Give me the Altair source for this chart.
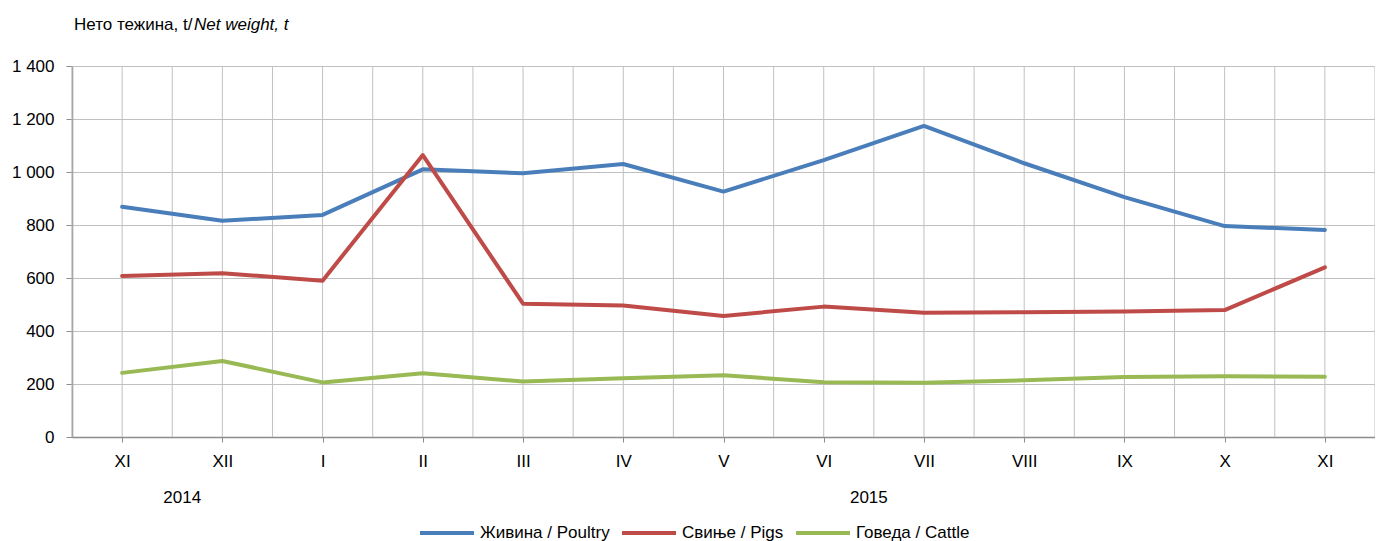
import altair as alt
import pandas as pd

months = ["XI", "XII", "I", "II", "III", "IV", "V", "VI", "VII", "VIII", "IX", "X", "XI"]
poultry = [869, 816, 838, 1010, 995, 1030, 926, 1045, 1174, 1033, 905, 796, 781]
pigs = [608, 618, 590, 1064, 503, 496, 457, 492, 469, 471, 474, 479, 640]
cattle = [242, 287, 206, 241, 209, 222, 233, 207, 205, 214, 226, 229, 227]

series_names = ["Живина / Poultry", "Свиње / Pigs", "Говеда / Cattle"]
series_colors = ["#4a7ebb", "#be4b48", "#98b954"]

years = ["2014", "2015"]
year_pos = [0.6, 7.45]

FONT = "Liberation Sans"

rows = []
for name, vals in zip(series_names, [poultry, pigs, cattle]):
    for i, v in enumerate(vals):
        rows.append({"idx": i, "month": months[i], "value": v, "series": name})
df = pd.DataFrame(rows)

n = len(months)
grid_df = pd.DataFrame({"g": [k / 2 - 0.5 for k in range(2 * n + 1)]})
years_df = pd.DataFrame({"year": years, "pos": year_pos})

label_arr = "[" + ",".join("'" + m + "'" for m in months) + "]"
xscale = alt.Scale(domain=[-0.5, n - 0.5], nice=False, zero=False)
xaxis = alt.Axis(values=list(range(n)), labelExpr=label_arr + "[datum.value]",
                 grid=False, title=None, tickSize=5, tickColor="#8c8c8c",
                 domainColor="#8c8c8c", domainWidth=1.5, labelPadding=11,
                 labelFont=FONT, labelFontSize=17, labelColor="#000000")

vgrid = alt.Chart(grid_df).mark_rule(color="#c0c0c0", strokeWidth=1).encode(
    x=alt.X("g:Q", scale=xscale, axis=xaxis)
)

lines = alt.Chart(df).mark_line(strokeWidth=4, strokeCap="round", strokeJoin="round").encode(
    x=alt.X("idx:Q", scale=xscale, axis=xaxis),
    y=alt.Y("value:Q", scale=alt.Scale(domain=[0, 1400], nice=False),
            axis=alt.Axis(values=list(range(0, 1401, 200)),
                          labelExpr="replace(format(datum.value, ','), ',', ' ')",
                          title=None, grid=True, gridColor="#c0c0c0", gridWidth=1,
                          tickSize=6, tickColor="#8c8c8c", domainColor="#8c8c8c",
                          domainWidth=1.5, labelPadding=12,
                          labelFont=FONT, labelFontSize=17, labelColor="#000000")),
    color=alt.Color("series:N", scale=alt.Scale(domain=series_names, range=series_colors),
                    legend=alt.Legend(title=None, orient="none", direction="horizontal",
                                      legendX=346, legendY=438,
                                      symbolType="stroke", symbolSize=2916,
                                      symbolStrokeWidth=4, labelOffset=4, columnPadding=4,
                                      labelFont=FONT, labelFontSize=17, labelColor="#000000")),
    detail="series:N",
)

year_text = alt.Chart(years_df).mark_text(font=FONT, fontSize=17, baseline="middle",
                                          align="center", color="#000000").encode(
    x=alt.X("pos:Q", scale=xscale, axis=xaxis),
    y=alt.value(432),
    text="year:N",
)

title_df = pd.DataFrame({"t1": ["Нето тежина, t/"], "t2": ["Net weight, t"]})
title1 = alt.Chart(title_df).mark_text(font=FONT, fontSize=17, align="left",
                                       baseline="alphabetic", color="#000000").encode(
    x=alt.value(2), y=alt.value(-36), text="t1:N")
title2 = alt.Chart(title_df).mark_text(font=FONT, fontSize=17, align="left", fontStyle="italic",
                                       baseline="alphabetic", color="#000000").encode(
    x=alt.value(122), y=alt.value(-36), text="t2:N")

chart = alt.layer(vgrid, lines, year_text, title1, title2).properties(
    width=1303, height=371,
    autosize=alt.AutoSizeParams(type="none"),
    padding={"left": 64, "top": 58, "right": 0, "bottom": 104},
).configure_view(stroke=None)

chart.save("out.html", embed_options={"renderer": "svg", "actions": False})
